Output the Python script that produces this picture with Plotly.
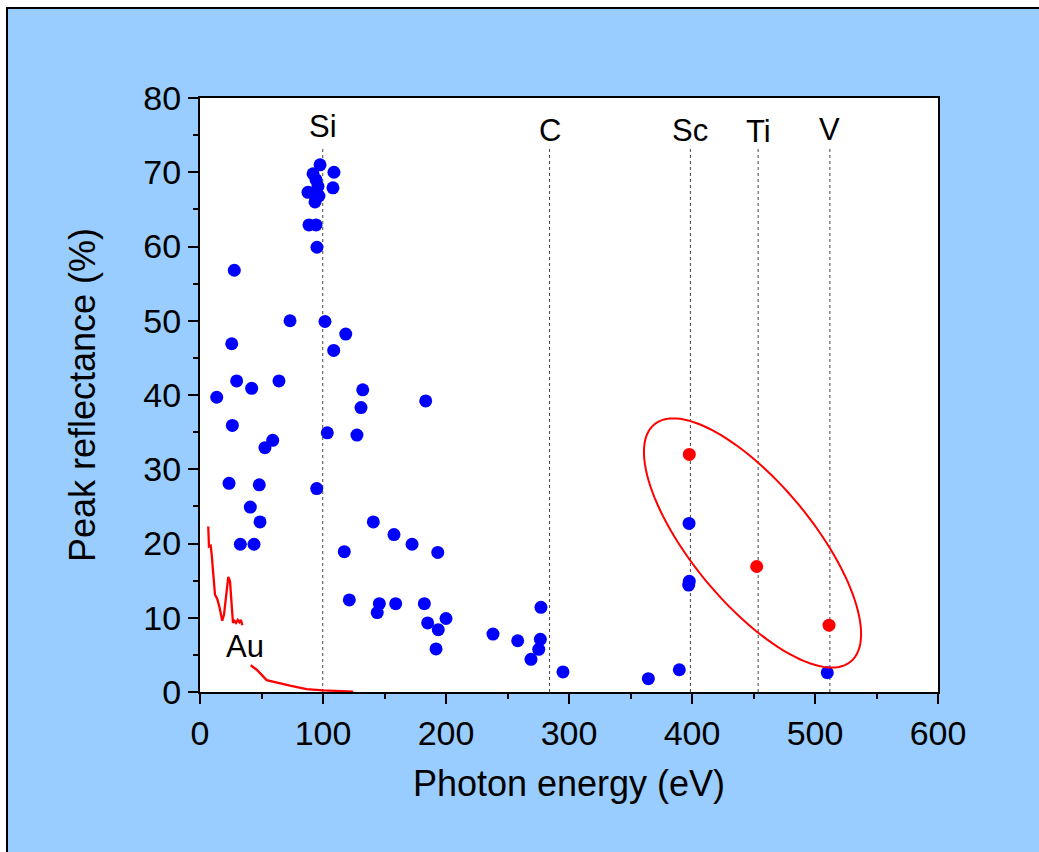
import numpy as np
import plotly.graph_objects as go

# ---------------- data ----------------
blue_x = [13.6, 23.6, 25.8, 26.3, 27.9, 29.8, 32.8, 40.9, 42.0, 43.9, 48.2, 48.8,
          52.8, 59.1, 64.2, 73.2,
          97.6, 108.9, 91.9, 94.3, 95.9, 108.1, 87.8, 96.7, 93.5, 88.6, 94.3, 95.1,
          101.6, 118.5, 108.7, 132.3, 130.9, 183.5, 103.5, 127.6, 94.9, 140.9, 157.7,
          172.4, 117.3, 193.3, 121.4, 145.8, 144.1, 159.1, 182.4, 185.1, 200.0, 193.7,
          191.9, 238.2, 258.3, 277.2, 276.7, 275.4, 269.1, 295.1, 364.5, 389.7, 397.6,
          397.8, 397.3, 510.0]
blue_y = [39.7, 28.1, 46.9, 35.9, 56.8, 41.9, 19.9, 24.9, 40.9, 19.9, 27.9, 22.9,
          32.9, 33.9, 41.9, 50.0,
          71.0, 70.0, 69.8, 69.0, 68.1, 67.9, 67.3, 66.8, 66.0, 62.9, 62.9, 59.9,
          49.9, 48.2, 46.0, 40.7, 38.3, 39.2, 34.9, 34.6, 27.4, 22.9, 21.2,
          19.9, 18.9, 18.8, 12.4, 11.9, 10.7, 11.9, 11.9, 9.3, 9.9, 8.4,
          5.8, 7.8, 6.9, 11.4, 7.1, 5.75, 4.4, 2.7, 1.8, 3.0, 22.7,
          14.9, 14.4, 2.6]

red_x = [397.8, 452.6, 511.4]
red_y = [32.0, 16.9, 9.0]

au1_x = [6.7, 7.3, 8.7, 9.5, 12.2, 14.1, 15.7, 18.1, 19.5, 21.1, 23.0, 24.4, 25.8,
         26.8, 27.9, 29.3, 30.7, 32.0, 33.3, 34.4]
au1_y = [22.3, 19.6, 19.7, 18.5, 13.1, 12.5, 11.5, 9.6, 10.4, 13.1, 15.5, 14.9, 11.7,
         9.3, 9.6, 9.3, 9.7, 9.4, 9.7, 9.0]
au2_x = [41.2, 46.1, 54.2, 62.4, 73.2, 86.7, 100.2, 124.6]
au2_y = [3.6, 3.0, 1.6, 1.25, 0.85, 0.4, 0.23, 0.05]

edge_names = ["Si", "C", "Sc", "Ti", "V"]
edge_energy = [99.8, 284.2, 398.7, 453.8, 512.1]
label_y = [76.1, 75.6, 75.6, 75.5, 75.8]

x_ticks = [0, 100, 200, 300, 400, 500, 600]
y_ticks = [0, 10, 20, 30, 40, 50, 60, 70, 80]

# ---------------- layout geometry ----------------
W, H = 1039, 852
ML, MR, MT, MB = 200, 101, 98, 160
PW, PH = W - ML - MR, H - MT - MB
XR, YR = (0, 600), (0, 80)
px_x = PW / (XR[1] - XR[0])
px_y = PH / (YR[1] - YR[0])

FONT = "Liberation Sans, Arial, sans-serif"
BLUE = "#0000FF"
RED = "#FF0000"

fig = go.Figure()

fig.add_trace(go.Scatter(x=au1_x, y=au1_y, mode="lines",
                         line=dict(color=RED, width=2.3), showlegend=False))
fig.add_trace(go.Scatter(x=au2_x, y=au2_y, mode="lines",
                         line=dict(color=RED, width=2.3), showlegend=False))
fig.add_trace(go.Scatter(x=blue_x, y=blue_y, mode="markers",
                         marker=dict(color=BLUE, size=13, line=dict(width=0)),
                         showlegend=False))
fig.add_trace(go.Scatter(x=red_x, y=red_y, mode="markers",
                         marker=dict(color=RED, size=13, line=dict(width=0)),
                         showlegend=False))

# element edge lines and labels
for name, e, ly in zip(edge_names, edge_energy, label_y):
    fig.add_shape(type="line", x0=e, x1=e, y0=0, y1=73.5, xref="x", yref="y",
                  line=dict(color="#444444", width=1, dash="dot"), layer="below")
    fig.add_annotation(x=e, y=ly, xref="x", yref="y", text=name, showarrow=False,
                       yanchor="middle", font=dict(family=FONT, size=31, color="black"))

fig.add_annotation(x=36.5, y=6.1, xref="x", yref="y", text="Au", showarrow=False,
                   font=dict(family=FONT, size=31, color="black"))

# ellipse around the red points (pixel-defined shape converted to data units)
cx, cy = 449.2, 20.07
a_px, b_px, phi = 154.0, 60.0, np.deg2rad(-50.35)
t = np.linspace(0, 2 * np.pi, 121)
dxp = a_px * np.cos(t) * np.cos(phi) - b_px * np.sin(t) * np.sin(phi)
dyp = a_px * np.cos(t) * np.sin(phi) + b_px * np.sin(t) * np.cos(phi)
ex = cx + dxp / px_x
ey = cy + dyp / px_y
path = "M " + " L ".join(f"{x:.3f},{y:.3f}" for x, y in zip(ex, ey)) + " Z"
fig.add_shape(type="path", path=path, xref="x", yref="y",
              line=dict(color=RED, width=2))

# outer frame: white strips top/left, black frame line
def pxx(p):
    return (p - ML) / PW

def pxy(p):
    return (H - MB - p) / PH

fig.add_shape(type="rect", xref="paper", yref="paper", x0=pxx(-5), x1=pxx(W + 5),
              y0=pxy(8), y1=pxy(-5), fillcolor="white", line=dict(width=0))
fig.add_shape(type="rect", xref="paper", yref="paper", x0=pxx(-5), x1=pxx(7),
              y0=pxy(H + 5), y1=pxy(-5), fillcolor="white", line=dict(width=0))
fig.add_shape(type="rect", xref="paper", yref="paper", x0=pxx(7), x1=pxx(W + 20),
              y0=pxy(H + 20), y1=pxy(8), fillcolor="rgba(0,0,0,0)",
              line=dict(color="black", width=2))

axis_common = dict(
    showgrid=False, zeroline=False, showline=True, linecolor="black", linewidth=2,
    mirror=True, ticks="outside", ticklen=10, tickwidth=2, tickcolor="black",
    tickfont=dict(family=FONT, size=34, color="black"),
)

fig.update_xaxes(range=list(XR), tickvals=x_ticks, **axis_common,
                 minor=dict(ticks="outside", ticklen=5, tickwidth=2, dtick=50,
                            tickcolor="black", showgrid=False),
                 title=dict(text="Photon energy (eV)", standoff=20,
                            font=dict(family=FONT, size=36, color="black")))
fig.update_yaxes(range=list(YR), tickvals=y_ticks, **axis_common,
                 minor=dict(ticks="outside", ticklen=5, tickwidth=2, dtick=5,
                            tickcolor="black", showgrid=False),
                 title=dict(text="Peak reflectance (%)", standoff=37,
                            font=dict(family=FONT, size=36, color="black")))

fig.update_layout(
    width=W, height=H, autosize=False,
    margin=dict(l=ML, r=MR, t=MT, b=MB, pad=0),
    paper_bgcolor="#99CCFF", plot_bgcolor="white",
    showlegend=False,
)

fig.write_html("out.html")
